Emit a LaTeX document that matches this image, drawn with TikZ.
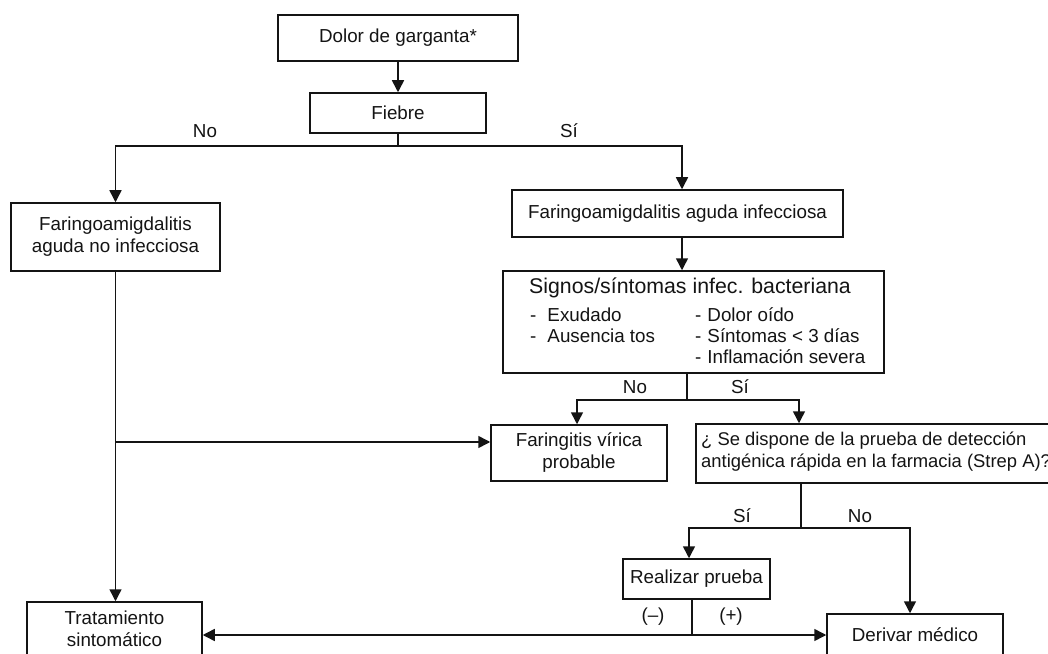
\documentclass[tikz,border=0pt]{standalone}
\usepackage{fontspec}
\setmainfont{Liberation Sans}
\usetikzlibrary{arrows.meta,calc}
\definecolor{ink}{HTML}{141414}
\begin{document}
\begin{tikzpicture}[x=1bp,y=-1bp,
  every node/.style={text=ink, font=\fontsize{18.8bp}{22bp}\selectfont, inner sep=0pt},
  box/.style={draw=ink, line width=1.5bp, align=center},
  ln/.style={draw=ink, line width=1.5bp},
  arr/.style={ln, -{Triangle[width=12bp,length=12bp]}},
  titlefont/.style={font=\fontsize{21.3bp}{24bp}\selectfont}]
\useasboundingbox (0,0) rectangle (1048,654);
\fill[white] (0,0) rectangle (1048,654);
\clip (0,0) rectangle (1048,654);

% boxes
\node[box, minimum width=240bp, minimum height=46bp] (dolor) at (398,38) {Dolor de garganta*};
\node[box, minimum width=176bp, minimum height=40bp] (fiebre) at (398,113) {Fiebre};
\node[box, minimum width=209bp, minimum height=68bp] (fani) at (115.5,237) {Faringoamigdalitis\\aguda no infecciosa};
\node[box, minimum width=331bp, minimum height=47bp] (fai) at (677.5,213.5) {Faringoamigdalitis aguda infecciosa};
\node[box, minimum width=381bp, minimum height=102bp] (signos) at (693.5,322) {};
\node[titlefont] (sigT) at (690,288) {Signos/síntomas infec. bacteriana};
\node[anchor=west] (s1) at (530,315) {-\hspace{11bp}Exudado};
\node[anchor=west] (s2) at (530,336) {-\hspace{11bp}Ausencia tos};
\node[anchor=west] (s3) at (695,315) {-\hspace{6bp}Dolor oído};
\node[anchor=west] (s4) at (695,336) {-\hspace{6bp}Síntomas < 3 días};
\node[anchor=west] (s5) at (695,357) {-\hspace{6bp}Inflamación severa};
\node[box, minimum width=176bp, minimum height=56bp] (vir) at (579,453) {Faringitis vírica\\probable};
\node[box, minimum width=374bp, minimum height=59bp] (strep) at (883,453.5) {};
\node[anchor=west, align=left, font=\fontsize{18.4bp}{22bp}\selectfont] (strepT) at (701,452) {¿ Se dispone de la prueba de detección\\antigénica rápida en la farmacia (Strep A)?};
\node[box, minimum width=147bp, minimum height=40bp] (realizar) at (696.5,579) {Realizar prueba};
\node[box, minimum width=175bp, minimum height=54bp] (trat) at (114.5,629) {Tratamiento\\sintomático};
\node[box, minimum width=176bp, minimum height=42bp] (derivar) at (915,635) {Derivar médico};

% labels
\node (lNo1) at (205,131) {No};
\node (lSi1) at (569,131) {Sí};
\node (lNo2) at (635,387) {No};
\node (lSi2) at (740,387) {Sí};
\node (lSi3) at (742,516) {Sí};
\node (lNo3) at (860,516) {No};
\node (lMinus) at (653,617) {(--)};
\node (lPlus) at (731,617) {(+)};

% connectors
\draw[arr] (dolor.south) -- (fiebre.north);
\coordinate (j1) at (398,146);
\draw[ln] (fiebre.south) -- (j1);
\draw[arr] (j1) -| (fani.north);
\draw[arr] (j1) -| ([xshift=4.5bp]fai.north);
\draw[arr] ([xshift=4.5bp]fai.south) -- ([xshift=4.5bp]fai.south |- signos.north);

\coordinate (j2) at (687,400);
\draw[ln] (signos.south -| j2) -- (j2);
\draw[arr] (j2) -| ([xshift=-2bp]vir.north);
\draw[arr] (j2) -| ([xshift=-84bp]strep.north);

\draw[arr] (fani.south) -- (fani.south |- trat.north);
\coordinate (j3) at (115.5,442);
\draw[arr] (j3) -- (j3 -| vir.west);

\coordinate (j4) at (801,528);
\draw[ln] (strep.south -| j4) -- (j4);
\draw[arr] (j4) -| ([xshift=-7.5bp]realizar.north);
\draw[arr] (j4) -| ([xshift=-5bp]derivar.north);

\coordinate (j5) at (692,635);
\draw[ln] (realizar.south -| j5) -- (j5);
\draw[arr] (j5) -- (j5 -| trat.east);
\draw[arr] (j5) -- (j5 -| derivar.west);
\end{tikzpicture}
\end{document}
